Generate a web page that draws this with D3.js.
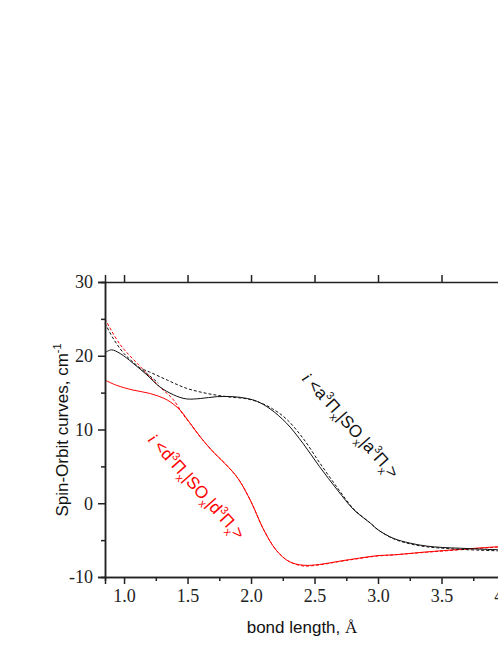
<!DOCTYPE html>
<html>
<head>
<meta charset="utf-8">
<script src="https://cdn.jsdelivr.net/npm/d3@7"></script>
<style>
  body { margin: 0; background: #fff; }
  svg { display: block; }
</style>
</head>
<body>
<svg width="498" height="645"></svg>
<script>
// a3Pi curves (black)
var aSolidX = [0.85, 0.90, 0.97, 1.07, 1.18, 1.28, 1.39, 1.49, 1.60, 1.73, 1.86, 1.97, 2.05, 2.15, 2.28, 2.41, 2.54, 2.68, 2.81, 2.94, 3.00, 3.12, 3.25, 3.38, 3.51, 3.65, 3.78, 3.94, 4.00];
var aSolidY = [20.4, 20.8, 20.3, 19.0, 17.4, 15.8, 14.7, 14.15, 14.2, 14.45, 14.45, 14.2, 13.8, 12.8, 10.85, 8.1, 4.95, 1.8, -0.9, -2.7, -3.6, -4.75, -5.4, -5.8, -6.0, -6.1, -6.2, -6.3, -6.3];
var aDashAX = [0.85, 0.92, 1.00, 1.10, 1.20, 1.27];
var aDashAY = [24.4, 22.2, 20.3, 18.7, 17.3, 16.3];
var aDashBX = [1.15, 1.20, 1.34, 1.49, 1.65, 1.81, 1.97, 2.07, 2.17, 2.28, 2.41, 2.54, 2.68, 2.81, 2.94, 3.00, 3.12, 3.25, 3.38, 3.51, 3.65, 3.78, 3.94, 4.00];
var aDashBY = [18.15, 17.8, 16.7, 15.6, 14.9, 14.45, 14.15, 13.65, 12.8, 11.4, 8.8, 5.5, 2.1, -0.8, -2.7, -3.6, -4.8, -5.5, -5.9, -6.1, -6.25, -6.35, -6.45, -6.5];

// d3Pi curves (red)
var dSolidX = [0.85, 0.94, 1.07, 1.20, 1.34, 1.44, 1.52, 1.60, 1.70, 1.80, 1.90, 2.00, 2.10, 2.20, 2.30, 2.41, 2.54, 2.68, 2.81, 3.00, 3.12, 3.38, 3.65, 3.94, 4.00];
var dSolidY = [16.7, 16.0, 15.35, 14.9, 14.0, 12.65, 10.85, 9.0, 7.0, 5.3, 3.3, 0.2, -3.6, -6.4, -7.9, -8.4, -8.3, -7.9, -7.55, -7.1, -7.0, -6.6, -6.25, -5.9, -5.85];
var dDashX = [0.85, 0.97, 1.13, 1.28, 1.39, 1.47, 1.52, 1.60, 1.70, 1.80, 1.90, 2.00, 2.10, 2.20, 2.30, 2.41, 2.54, 2.68, 2.81, 3.00, 3.12, 3.38, 3.65, 3.94, 4.00];
var dDashY = [25.0, 21.5, 18.5, 15.8, 14.0, 11.9, 10.85, 9.0, 7.0, 5.3, 3.3, 0.2, -3.6, -6.4, -7.9, -8.5, -8.35, -7.95, -7.6, -7.15, -7.0, -6.65, -6.3, -5.95, -5.9];

var xMajor = [1.0, 1.5, 2.0, 2.5, 3.0, 3.5, 4.0];
var xMinor = [1.25, 1.75, 2.25, 2.75, 3.25, 3.75];
var yMajor = [-10, 0, 10, 20, 30];
var yMinor = [-5, 5, 15, 25];

(function(){
  var svg = d3.select("svg");
  var pLeft = 105, pRight = 505, pTop = 282, pBottom = 577;

  var x = d3.scaleLinear().domain([0.85, 4.0]).range([pLeft, pRight]);
  var y = d3.scaleLinear().domain([-10, 30]).range([pBottom, pTop]);

  function pts(xs, ys) { return xs.map(function(v, i) { return [v, ys[i]]; }); }
  var line = d3.line()
    .x(function(d) { return x(d[0]); })
    .y(function(d) { return y(d[1]); })
    .curve(d3.curveCatmullRom.alpha(0.5));

  var g = svg.append("g");
  g.append("path").datum(pts(dSolidX, dSolidY)).attr("d", line)
    .attr("fill", "none").attr("stroke", "#ff0000").attr("stroke-width", 1);
  g.append("path").datum(pts(dDashX, dDashY)).attr("d", line)
    .attr("fill", "none").attr("stroke", "#ff0000").attr("stroke-width", 1).attr("stroke-dasharray", "3,2");
  g.append("path").datum(pts(aSolidX, aSolidY)).attr("d", line)
    .attr("fill", "none").attr("stroke", "#111").attr("stroke-width", 1);
  [pts(aDashAX, aDashAY), pts(aDashBX, aDashBY)].forEach(function(p) {
    g.append("path").datum(p).attr("d", line)
      .attr("fill", "none").attr("stroke", "#111").attr("stroke-width", 1).attr("stroke-dasharray", "3,2");
  });

  // axes
  var serif = "'Liberation Serif', 'Times New Roman', serif";
  var sans = "'Liberation Sans', Arial, sans-serif";

  svg.append("g").attr("transform", "translate(0," + pBottom + ")")
    .call(d3.axisBottom(x).tickValues(xMajor).tickSize(7).tickPadding(5).tickFormat(d3.format(".1f")));
  svg.append("g").attr("transform", "translate(0," + pBottom + ")")
    .call(d3.axisBottom(x).tickValues(xMinor).tickSize(4).tickFormat(""));
  svg.append("g").attr("transform", "translate(0," + pTop + ")")
    .call(d3.axisTop(x).tickValues(xMajor).tickSize(7).tickFormat(""));
  svg.append("g").attr("transform", "translate(" + pLeft + ",0)")
    .call(d3.axisLeft(y).tickValues(yMajor).tickSize(7).tickPadding(5).tickFormat(function(d) { return String(d); }));
  svg.append("g").attr("transform", "translate(" + pLeft + ",0)")
    .call(d3.axisLeft(y).tickValues(yMinor).tickSize(4).tickFormat(""));

  svg.selectAll(".domain").attr("stroke", "#222").attr("stroke-width", 1.5);
  svg.selectAll(".tick line").attr("stroke", "#222").attr("stroke-width", 1.5);
  svg.selectAll(".tick text").attr("font-family", serif).attr("font-size", 18).attr("fill", "#222");
  // right spine
  svg.append("line").attr("x1", pRight).attr("x2", pRight).attr("y1", pTop).attr("y2", pBottom)
    .attr("stroke", "#222").attr("stroke-width", 1.5);

  // axis titles
  var xt = svg.append("text").attr("x", 302).attr("y", 633).attr("text-anchor", "middle")
    .attr("font-family", sans).attr("font-size", 17).attr("fill", "#111");
  xt.append("tspan").text("bond length, ");
  xt.append("tspan").attr("font-family", serif).text("Å");

  var yt = svg.append("text").attr("transform", "translate(68,430) rotate(-90)").attr("text-anchor", "middle")
    .attr("font-family", sans).attr("font-size", 17).attr("fill", "#111");
  yt.append("tspan").text("Spin-Orbit curves, cm");
  yt.append("tspan").attr("dy", -7).attr("font-size", 11).text("-1");

  // curve labels
  function label(tx, ty, letter, color) {
    var t = svg.append("text").attr("transform", "translate(" + tx + "," + ty + ") rotate(48)")
      .attr("font-family", sans).attr("font-size", 17).attr("fill", color);
    t.append("tspan").attr("font-family", serif).attr("font-style", "italic").text("i");
    t.append("tspan").text(" <" + letter);
    t.append("tspan").attr("dy", -7).attr("font-size", 11).text("3");
    t.append("tspan").attr("dy", 7).text("Π");
    t.append("tspan").attr("dy", 5).attr("font-size", 11).text("x");
    t.append("tspan").attr("dy", -5).text("|SO");
    t.append("tspan").attr("dy", 5).attr("font-size", 11).text("x");
    t.append("tspan").attr("dy", -5).text("|" + letter);
    t.append("tspan").attr("dy", -7).attr("font-size", 11).text("3");
    t.append("tspan").attr("dy", 7).text("Π");
    t.append("tspan").attr("dy", 5).attr("font-size", 11).text("x");
    t.append("tspan").attr("dy", -5).text(">");
  }
  label(301, 379, "a", "#111");
  label(147, 440, "d", "#ff0000");
}());
</script>
</body>
</html>
